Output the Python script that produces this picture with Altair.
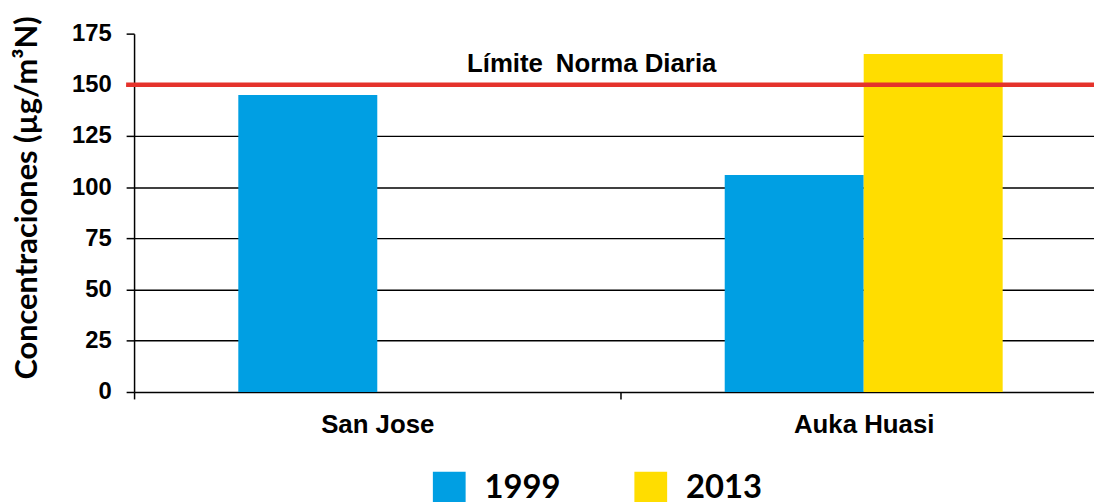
import altair as alt
import pandas as pd

sites = ["San Jose", "Auka Huasi"]
years = ["1999", "2013"]
values_1999 = [145, 106]
values_2013 = [None, 165]
colors = ["#009FE3", "#FFDD00"]
limit_value = [150]
limit_label = ["Límite\u2002Norma Diaria"]
y_ticks = [0, 25, 50, 75, 100, 125, 150, 175]

rows = []
for s, v in zip(sites, values_1999):
    if v is not None:
        rows.append({"site": s, "year": years[0], "value": v})
for s, v in zip(sites, values_2013):
    if v is not None:
        rows.append({"site": s, "year": years[1], "value": v})
df = pd.DataFrame(rows)
lim = pd.DataFrame({"limit": limit_value, "label": limit_label})

W = 980
H = 361

yscale = alt.Scale(domain=[0, 175], nice=False, zero=True)

bars = alt.Chart(df).mark_bar(strokeWidth=0).encode(
    x=alt.X("site:N", sort=sites,
            scale=alt.Scale(paddingInner=0, paddingOuter=0),
            axis=alt.Axis(title=None, labelAngle=0, tickBand="extent",
                          labelFont="Liberation Sans", labelFontWeight="bold",
                          labelFontSize=26, labelColor="black", labelPadding=13,
                          domainColor="black", domainWidth=1.5,
                          tickColor="black", tickSize=7, tickWidth=1.5, grid=False)),
    xOffset=alt.XOffset("year:N", sort=years,
                        scale=alt.Scale(domain=years, paddingInner=0, paddingOuter=0.75)),
    y=alt.Y("value:Q", scale=yscale,
            axis=alt.Axis(values=y_ticks, title="Concentraciones (µg/m³N)",
                          titleFont="Lato", titleFontSize=31, titleFontWeight="bold",
                          titleColor="black", titleX=-107, titleY=165,
                          titleBaseline="middle", titleAngle=-90,
                          labelFont="Liberation Sans", labelFontWeight="bold",
                          labelFontSize=24, labelColor="black", labelPadding=15,
                          domainColor="black", domainWidth=1.5,
                          tickColor="black", tickSize=8, tickWidth=1.5,
                          grid=True, gridColor="black", gridWidth=1.5,
                          gridOpacity=alt.condition("datum.value === 175 || datum.value === 0",
                                                    alt.value(0), alt.value(1)))),
    color=alt.Color("year:N", sort=years,
                    scale=alt.Scale(domain=years, range=colors),
                    legend=alt.Legend(title=None, orient="none", legendX=301, legendY=441,
                                      direction="horizontal", symbolType="square",
                                      symbolSize=1089, symbolStrokeWidth=0,
                                      labelFont="Lato", labelFontSize=33,
                                      labelFontWeight="bold", labelColor="black",
                                      labelOffset=19, columnPadding=74, padding=0)),
)

rule = alt.Chart(lim).mark_rule(color="#E5322B", strokeWidth=4.5).encode(
    y=alt.Y("limit:Q", scale=yscale),
    x=alt.value(-8),
    x2=alt.value(W),
)

text = alt.Chart(lim).mark_text(font="Liberation Sans", fontWeight="bold", fontSize=26,
                                color="black", baseline="alphabetic", align="center",
                                dy=-13).encode(
    y=alt.Y("limit:Q", scale=yscale),
    x=alt.value(461),
    text="label:N",
)

chart = alt.layer(bars, rule, text).properties(
    width=W, height=H,
    autosize=alt.AutoSizeParams(type="none"),
    padding={"left": 127, "top": 24, "right": -13, "bottom": 109},
).configure_view(stroke=None)

chart.save("out.html", embed_options={"renderer": "svg", "actions": False})
